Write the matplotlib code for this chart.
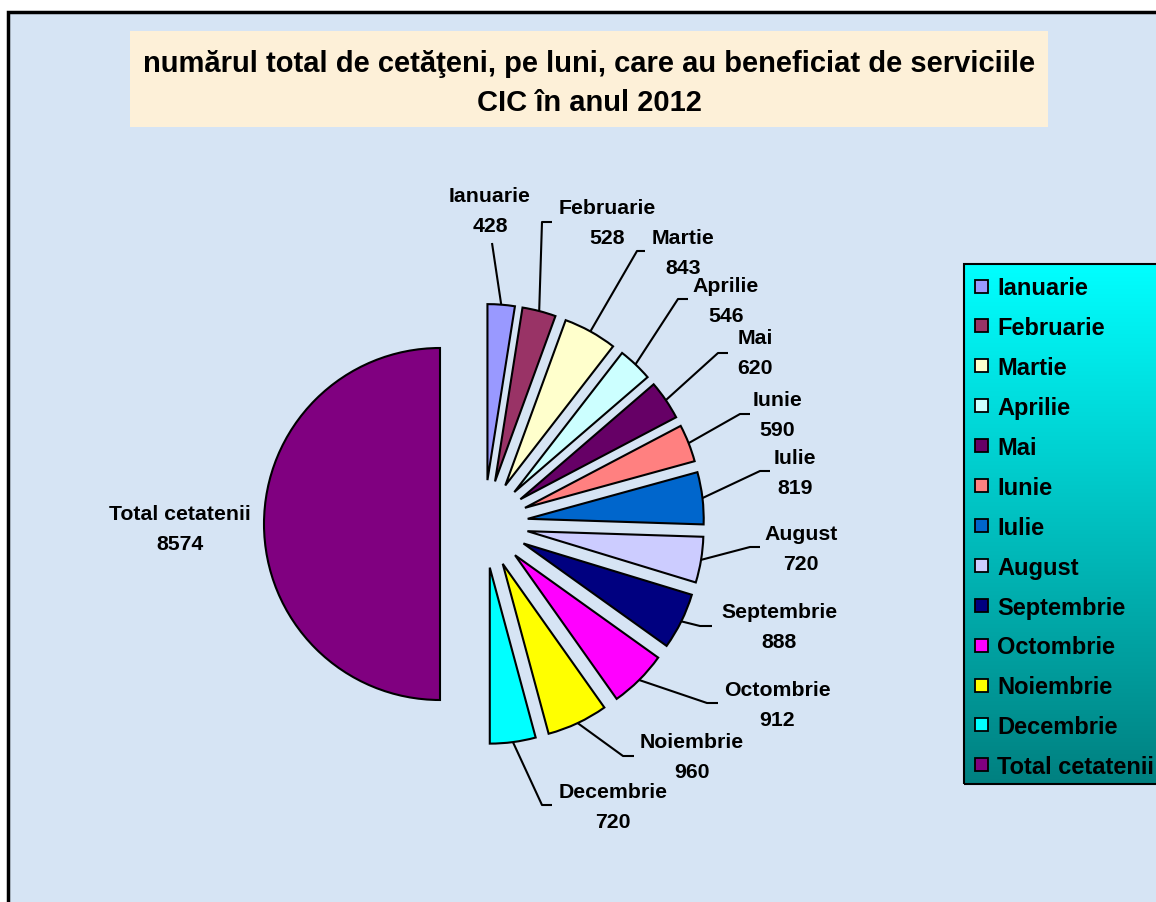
import matplotlib
matplotlib.use("Agg")
import matplotlib.pyplot as plt
import numpy as np
from matplotlib.patches import Rectangle
from matplotlib.colors import LinearSegmentedColormap

# ---------------- data ----------------
categories = ["Ianuarie", "Februarie", "Martie", "Aprilie", "Mai", "Iunie", "Iulie",
              "August", "Septembrie", "Octombrie", "Noiembrie", "Decembrie",
              "Total cetatenii"]
values = [428, 528, 843, 546, 620, 590, 819, 720, 888, 912, 960, 720, 8574]
colors = ["#9999FF", "#993366", "#FFFFCC", "#CCFFFF", "#660066", "#FF8080", "#0066CC",
          "#CCCCFF", "#000080", "#FF00FF", "#FFFF00", "#00FFFF", "#800080"]
title_lines = ["numărul total de cetăţeni, pe luni, care au beneficiat de serviciile",
               "CIC în anul 2012"]

# ---------------- layout (pixels, origin top-left) ----------------
W, H = 1156, 903
label_pos = [(490, 210), (607, 222), (683, 252), (726, 300), (755, 352), (777, 414),
             (795, 472), (801, 548), (779, 625), (777, 704), (692, 756), (613, 806),
             (180, 527)]
label_elbows = [[(492, 244)], [(552, 223), (542, 223)], [(645, 252), (637, 252)],
                [(688, 300), (678, 300)], [(728, 354), (718, 354)],
                [(750, 415), (740, 415)], [(770, 472), (760, 472)],
                [(760, 548), (750, 548)], [(712, 627), (700, 627)],
                [(718, 704), (707, 704)], [(634, 757), (623, 757)],
                [(552, 806), (542, 806)], []]

FONT = ["Liberation Sans", "DejaVu Sans"]
plt.rcParams["font.family"] = FONT


def P(x, y):
    return x, H - y


fig = plt.figure(figsize=(W / 100, H / 100), dpi=100)
fig.patch.set_facecolor("white")
ax = fig.add_axes([0, 0, 1, 1])
ax.set_xlim(0, W)
ax.set_ylim(0, H)
ax.axis("off")

# background panel with frame (top & left edges visible)
ax.add_patch(Rectangle(P(8, 913), W + 20, 900, facecolor="#D6E4F4",
                       edgecolor="black", linewidth=2.5, zorder=0))

# title box
ax.add_patch(Rectangle(P(130, 128), 918, 96, facecolor="#FDF0D8",
                       edgecolor="none", zorder=1))
ax.text(*P(589, 72), title_lines[0], ha="center", va="baseline", fontsize=21,
        fontweight="bold", zorder=2)
ax.text(*P(589, 111), title_lines[1], ha="center", va="baseline", fontsize=21,
        fontweight="bold", zorder=2)

# pie
wedges, _ = ax.pie(values, colors=colors, startangle=90, counterclock=False,
                   explode=[44] * len(values), radius=176, center=P(484, 525),
                   frame=True,
                   wedgeprops=dict(edgecolor="black", linewidth=1.5, zorder=3))
ax.set_xlim(0, W)
ax.set_ylim(0, H)
ax.axis("off")

LFS = 15.3
for w, cat, val, (lx, ly), elb in zip(wedges, categories, values, label_pos, label_elbows):
    th = np.deg2rad((w.theta1 + w.theta2) / 2)
    cx, cy = w.center
    ox, oy = cx + w.r * np.cos(th), cy + w.r * np.sin(th)
    if elb:
        xs = [e[0] for e in elb] + [ox]
        ys = [H - e[1] for e in elb] + [oy]
        ax.plot(xs, ys, color="black", linewidth=1.5, zorder=4,
                solid_capstyle="butt")
    ax.text(*P(lx, ly - 15 + 7.5), cat, ha="center", va="baseline", fontsize=LFS,
            fontweight="bold", zorder=5)
    ax.text(*P(lx, ly + 15 + 7.5), str(val), ha="center", va="baseline", fontsize=LFS,
            fontweight="bold", zorder=5)

# legend with vertical gradient
cmap = LinearSegmentedColormap.from_list("lg", ["#00FFFF", "#008080"])
grad = np.linspace(0, 1, 256).reshape(-1, 1)
ax.imshow(grad, cmap=cmap, aspect="auto", extent=(964, W + 10, H - 785, H - 265),
          origin="upper", zorder=6, interpolation="bilinear")
ax.add_patch(Rectangle(P(964, 785), 210, 520, facecolor="none", edgecolor="black",
                       linewidth=1.5, zorder=7))
for i, (cat, col) in enumerate(zip(categories, colors)):
    yc = 287 + i * 39.9
    ax.add_patch(Rectangle(P(975, yc + 6.5), 13, 13, facecolor=col, edgecolor="black",
                           linewidth=1.3, zorder=8))
    ax.text(*P(997, yc + 8.3), cat, ha="left", va="baseline", fontsize=17,
            fontweight="bold", zorder=8)

ax.set_xlim(0, W)
ax.set_ylim(0, H)
fig.savefig("out.png", dpi=100, facecolor="white")
